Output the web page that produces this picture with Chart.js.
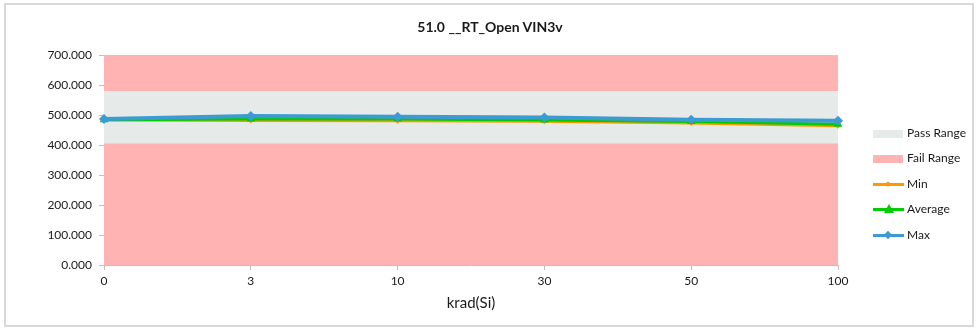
<!DOCTYPE html>
<html>
<head>
<meta charset="utf-8">
<script src="https://cdn.jsdelivr.net/npm/chart.js@4.4.1/dist/chart.umd.min.js"></script>
<style>
  html, body { margin: 0; padding: 0; background: #ffffff; }
  #wrap { position: relative; width: 980px; height: 332px; font-family: Lato, "Open Sans", sans-serif; }
  #frame { position: absolute; left: 4px; top: 3px; width: 970px; height: 324px; border: 2px solid #d9d9d9; box-sizing: border-box; pointer-events: none; }
  #title { position: absolute; left: 0; width: 980px; top: 18px; text-align: center; font: bold 14px Lato, sans-serif; color: #1a1a1a; }
  canvas { position: absolute; left: 0; top: 0; }
  .lg { position: absolute; left: 873px; height: 14px; font-size: 12px; color: #1a1a1a; }
  .lg .txt { position: absolute; left: 34px; top: -1px; white-space: nowrap; line-height: 14px; }
  .sw { position: absolute; left: 0; top: 3px; width: 30px; height: 8px; }
  .ln { position: absolute; left: 0; top: 5px; width: 31px; height: 3px; }
  .dm { position: absolute; width: 6px; height: 6px; transform: rotate(45deg); left: 12px; top: 3px; }
  .tri { position: absolute; width: 0; height: 0; left: 11px; top: 1px; border-left: 5px solid transparent; border-right: 5px solid transparent; border-bottom: 9px solid #00cc00; }
</style>
</head>
<body>
<div id="wrap">
  <canvas id="c" width="980" height="332"></canvas>
  <div id="title">51.0 __RT_Open VIN3v</div>
  <div class="lg" style="top:127px"><div class="sw" style="background:#e6ebea"></div><div class="txt">Pass Range</div></div>
  <div class="lg" style="top:152px"><div class="sw" style="background:#ffb3b3"></div><div class="txt">Fail Range</div></div>
  <div class="lg" style="top:178px"><div class="ln" style="background:#ff9900"></div><div class="dm" style="background:#ff9900;width:4px;height:4px;left:13px;top:4px"></div><div class="txt">Min</div></div>
  <div class="lg" style="top:203px"><div class="ln" style="background:#00cc00"></div><div class="tri"></div><div class="txt">Average</div></div>
  <div class="lg" style="top:229px"><div class="ln" style="background:#3c9bd2"></div><div class="dm" style="background:#3c9bd2"></div><div class="txt">Max</div></div>
  <div id="frame"></div>
</div>
<script>
const categories = ['0', '3', '10', '30', '50', '100'];
const minValues = [483, 482, 481, 479, 473, 464];
const avgValues = [484, 487, 487, 483, 478, 469];
const maxValues = [487, 497, 494, 492, 484, 481];
const passUpper = 580;
const passLower = 405;
const failUpper = 700;
const yTicks = [0, 100, 200, 300, 400, 500, 600, 700];

const passData = categories.map(() => passUpper);
const failData = categories.map(() => failUpper);

new Chart(document.getElementById('c'), {
  type: 'line',
  data: {
    labels: categories,
    datasets: [
      { label: 'Max', data: maxValues, borderColor: '#3c9bd2', backgroundColor: '#3c9bd2', borderWidth: 4,
        pointStyle: 'rectRot', pointRadius: 5, pointBorderWidth: 0, tension: 0, fill: false, order: 0 },
      { label: 'Average', data: avgValues, borderColor: '#00cc00', backgroundColor: '#00cc00', borderWidth: 3,
        pointStyle: 'triangle', pointRadius: 5, pointBorderWidth: 0, tension: 0, fill: false, order: 1 },
      { label: 'Min', data: minValues, borderColor: '#ff9900', backgroundColor: '#ff9900', borderWidth: 3,
        pointStyle: 'rectRot', pointRadius: 3, pointBorderWidth: 0, tension: 0, fill: false, order: 2 },
      { label: 'Pass Range', data: passData, borderWidth: 0, borderColor: 'rgba(0,0,0,0)', pointRadius: 0,
        backgroundColor: '#e6ebea', fill: { value: passLower }, order: 3 },
      { label: 'Fail Range', data: failData, borderWidth: 0, borderColor: 'rgba(0,0,0,0)', pointRadius: 0,
        backgroundColor: '#ffb3b3', fill: 'origin', order: 4 }
    ]
  },
  options: {
    responsive: false,
    animation: false,
    layout: { padding: { left: 0, right: 142, top: 55, bottom: 0 } },
    plugins: { legend: { display: false }, title: { display: false }, tooltip: { enabled: false } },
    scales: {
      x: {
        type: 'category',
        offset: false,
        grid: { display: true, drawOnChartArea: false, drawTicks: true, tickLength: 5, color: '#bfbfbf' },
        border: { display: true, color: '#bfbfbf', width: 1 },
        ticks: { color: '#1a1a1a', font: { family: 'Lato', size: 12 }, maxRotation: 0, padding: 4 },
        title: { display: true, text: 'krad(Si)', color: '#1a1a1a', font: { family: 'Lato', size: 15 }, padding: { top: 4, bottom: 20 } },
        afterFit: (a) => { a.height = 67; }
      },
      y: {
        min: 0, max: 700,
        afterBuildTicks: (a) => { a.ticks = yTicks.map(v => ({ value: v })); },
        grid: { display: true, drawOnChartArea: false, drawTicks: true, tickLength: 5, color: '#bfbfbf' },
        border: { display: true, color: '#bfbfbf', width: 1 },
        ticks: { color: '#1a1a1a', font: { family: 'Lato', size: 12 }, padding: 7, callback: (v) => Number(v).toFixed(3) },
        afterFit: (a) => { a.width = 104; }
      }
    }
  }
});
</script>
</body>
</html>
